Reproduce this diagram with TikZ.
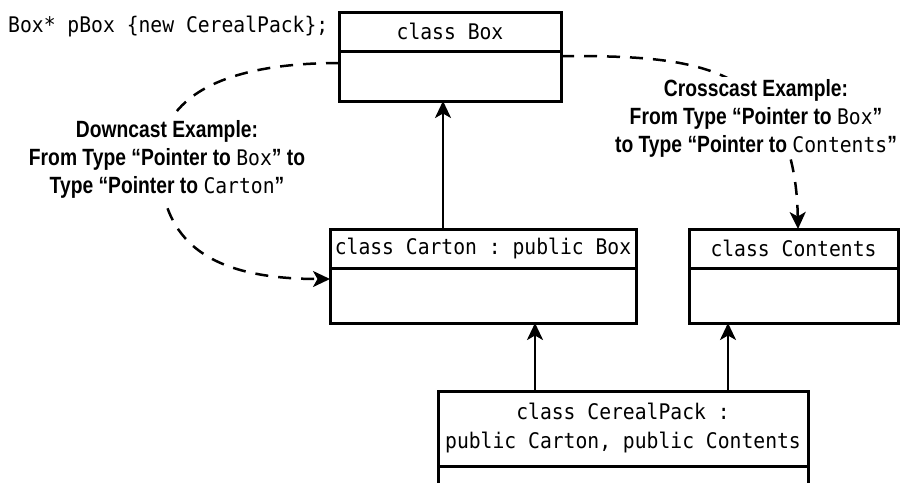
\documentclass[tikz,border=0pt]{standalone}
\usepackage{fontspec}
\setmonofont[FakeStretch=0.916]{DejaVu Sans Mono}
\newfontfamily\lblfont[FakeStretch=0.82]{Liberation Sans}
\usetikzlibrary{arrows.meta,calc}
\newcommand\cd[1]{{\fontsize{21.5pt}{28pt}\selectfont\ttfamily\mdseries #1}}
\begin{document}
\begin{tikzpicture}[x=1pt,y=-1pt,
  box/.style={draw, line width=3pt, inner sep=0pt, outer sep=0pt,
    font=\fontsize{21.5pt}{29pt}\selectfont\ttfamily, align=center},
  arr/.style={line width=2.5pt, -{Stealth[length=17pt,width=16pt,inset=4.5pt]}},
  dsh/.style={line width=2.5pt, dash pattern=on 13pt off 10pt,
    -{Stealth[length=17pt,width=16pt,inset=4.5pt]}},
  lbl/.style={fill=white, inner sep=2pt, align=center,
    font=\lblfont\bfseries\fontsize{23.5pt}{28pt}\selectfont}]
\useasboundingbox (0,0) rectangle (902,483);
% class boxes
\node[box, minimum width=222pt, minimum height=39pt] (boxh) at (450,31.5) {class Box};
\node[box, minimum width=222pt, minimum height=50pt, anchor=north] (boxb) at (boxh.south) {};
\node[box, minimum width=306pt, minimum height=39pt] (cartonh) at (483,248.5) {class Carton : public Box};
\node[box, minimum width=306pt, minimum height=55pt, anchor=north] (cartonb) at (cartonh.south) {};
\node[box, minimum width=209pt, minimum height=39pt] (conth) at (793.5,248.5) {class Contents};
\node[box, minimum width=209pt, minimum height=55pt, anchor=north] (contb) at (conth.south) {};
\node[box, minimum width=370pt, minimum height=75pt] (cph) at (623,428.5) {class CerealPack :\\public Carton, public Contents};
\coordinate (cpbl) at (cph.south west |- 0,483);
\coordinate (cpbr) at (cph.south east |- 0,483);
\draw[line width=3pt] (cph.south west) -- (cpbl);
\draw[line width=3pt] (cph.south east) -- (cpbr);
% code line
\node[anchor=base west, inner sep=0pt, font=\fontsize{21.5pt}{24pt}\selectfont\ttfamily] (code) at (8,32) {Box* pBox \{new CerealPack\};};
% inheritance arrows
\draw[arr] (cartonh.north -| 443,0) -- (boxb.south -| 443,0);
\draw[arr] (cph.north -| 535,0) -- (cartonb.south -| 535,0);
\draw[arr] (cph.north -| 728,0) -- (contb.south -| 728,0);
% cast curves
\draw[dsh] (boxb.west |- 0,63) .. controls (223,63) and (160,97) .. (160,160)
  .. controls (160,243) and (211,279) .. (cartonb.west |- 0,279);
\draw[dsh] (boxb.east |- 0,56) .. controls (690,56) and (795,60) .. (conth.north -| 798,0);
% labels
\node[lbl] (down) at (167,159) {Downcast Example:\\From Type “Pointer to \cd{Box}” to\\Type “Pointer to \cd{Carton}”};
\node[lbl] (cross) at (756,118) {Crosscast Example:\\From Type “Pointer to \cd{Box}”\\to Type “Pointer to \cd{Contents}”};
\end{tikzpicture}
\end{document}
